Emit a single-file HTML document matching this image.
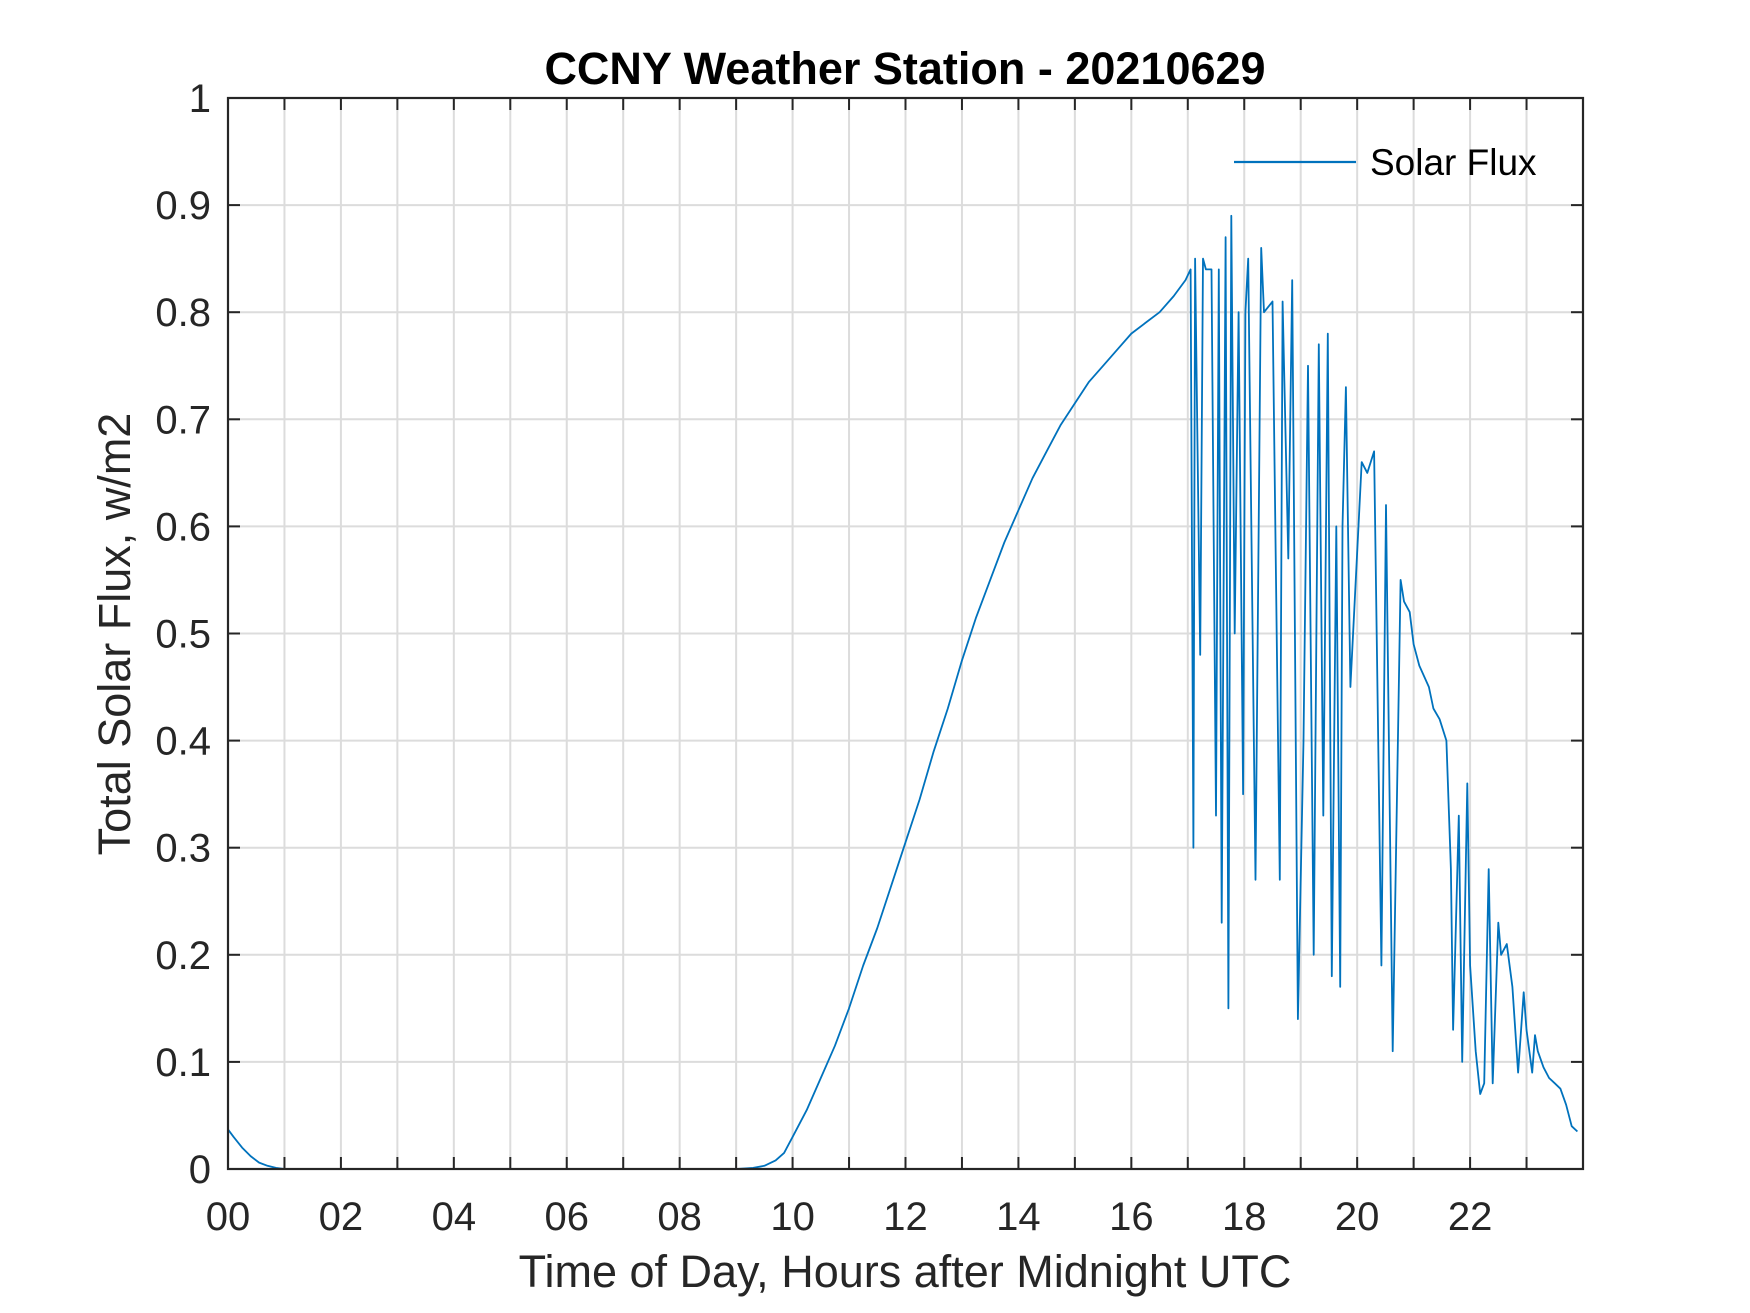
<!DOCTYPE html>
<html><head><meta charset="utf-8"><style>
html,body{margin:0;padding:0;background:#fff;}
svg{display:block;font-family:"Liberation Sans",Arial,sans-serif;}
</style></head><body>
<svg id="chart" width="1750" height="1313" viewBox="0 0 1750 1313" xmlns="http://www.w3.org/2000/svg">
<rect width="1750" height="1313" fill="#fff"/>
<g id="grid"></g>
<g id="ticks"></g>
<path id="series" fill="none" stroke="#0072bd" stroke-width="1.8" stroke-linejoin="round"/>
<rect x="228" y="98" width="1355" height="1071" fill="none" stroke="#262626" stroke-width="2.2"/>
<text x="905" y="84" text-anchor="middle" font-size="45" font-weight="bold" fill="#000">CCNY Weather Station - 20210629</text>
<text x="905" y="1287" text-anchor="middle" font-size="45" fill="#262626">Time of Day, Hours after Midnight UTC</text>
<text transform="translate(130,634) rotate(-90)" text-anchor="middle" font-size="45" fill="#262626">Total Solar Flux, w/m2</text>
<g>
<line x1="1234" y1="162" x2="1356" y2="162" stroke="#0072bd" stroke-width="2.2"/>
<text x="1370" y="175" font-size="37" fill="#000">Solar Flux</text>
</g>
</svg>
<script>
const hours = [0,0.1,0.25,0.4,0.55,0.7,0.85,1,2,3,4,5,6,7,8,9,9.3,9.5,9.7,9.85,10,10.25,10.5,10.75,11,11.25,11.5,11.75,12,12.25,12.5,12.75,13,13.25,13.5,13.75,14,14.25,14.5,14.75,15,15.25,15.5,15.75,16,16.25,16.5,16.75,16.96,
17.05,17.1,17.13,17.22,17.27,17.32,17.42,17.5,17.55,17.6,17.67,17.72,17.77,17.83,17.9,17.98,18.02,18.07,18.2,18.3,18.35,18.5,18.63,18.68,18.78,18.85,18.95,19.05,19.13,19.23,19.32,19.4,19.48,19.55,19.63,19.7,19.74,19.8,19.88,20.08,20.18,20.3,20.43,20.51,20.63,20.77,20.83,20.93,
21,21.1,21.27,21.35,21.46,21.58,21.66,21.7,21.8,21.86,21.95,22.0,22.1,22.18,22.25,22.33,22.4,22.5,22.55,22.65,22.75,22.85,22.95,23.0,23.1,23.15,23.2,23.3,23.4,23.5,23.6,23.7,23.8,23.9,23.98];
const flux = [0.037,0.03,0.02,0.012,0.006,0.003,0.001,0,0,0,0,0,0,0,0,0,0.001,0.003,0.008,0.015,0.03,0.055,0.085,0.115,0.15,0.19,0.225,0.265,0.305,0.345,0.39,0.43,0.475,0.515,0.55,0.585,0.615,0.645,0.67,0.695,0.715,0.735,0.75,0.765,0.78,0.79,0.80,0.815,0.83,
0.84,0.30,0.85,0.48,0.85,0.84,0.84,0.33,0.84,0.23,0.87,0.15,0.89,0.5,0.8,0.35,0.8,0.85,0.27,0.86,0.8,0.81,0.27,0.81,0.57,0.83,0.14,0.4,0.75,0.2,0.77,0.33,0.78,0.18,0.6,0.17,0.6,0.73,0.45,0.66,0.65,0.67,0.19,0.62,0.11,0.55,0.53,
0.52,0.49,0.47,0.45,0.43,0.42,0.40,0.28,0.13,0.33,0.10,0.36,0.19,0.11,0.07,0.08,0.28,0.08,0.23,0.20,0.21,0.17,0.09,0.165,0.13,0.09,0.125,0.11,0.095,0.085,0.08,0.075,0.06,0.04,0.035];
const yTicks = [0,0.1,0.2,0.3,0.4,0.5,0.6,0.7,0.8,0.9,1];
const yTickLabels = ["0","0.1","0.2","0.3","0.4","0.5","0.6","0.7","0.8","0.9","1"];
const xGridHours = [1,2,3,4,5,6,7,8,9,10,11,12,13,14,15,16,17,18,19,20,21,22,23];
const xTicks = [0,2,4,6,8,10,12,14,16,18,20,22];
const xTickLabels = ["00","02","04","06","08","10","12","14","16","18","20","22"];

const L=228,R=1583,T=98,B=1169;
const xs = h => L + (h/24)*(R-L);
const ys = v => B - v*(B-T);
const NS="http://www.w3.org/2000/svg";
const grid=document.getElementById('grid'), ticks=document.getElementById('ticks');
function mk(tag, attrs, parent){const e=document.createElementNS(NS,tag);for(const k in attrs)e.setAttribute(k,attrs[k]);parent.appendChild(e);return e;}
xGridHours.forEach(h=>{
  const g=mk('line',{x1:xs(h),x2:xs(h),y1:T,y2:B,stroke:'#dcdcdc','stroke-width':2},grid);
  
  
  [[B,B-12],[T,T+12]].forEach(p=>{const t=mk('line',{x1:xs(h),x2:xs(h),y1:p[0],y2:p[1],stroke:'#262626','stroke-width':2},ticks);
  
  });
});
yTicks.forEach((v,i)=>{
  if(v>0&&v<1){const g=mk('line',{x1:L,x2:R,y1:ys(v),y2:ys(v),stroke:'#dcdcdc','stroke-width':2},grid);
  
  }
  [[L,L+12],[R,R-12]].forEach(p=>{const t=mk('line',{x1:p[0],x2:p[1],y1:ys(v),y2:ys(v),stroke:'#262626','stroke-width':2},ticks);
  
  });
  const lb=mk('text',{x:211,y:ys(v)+14,'text-anchor':'end','font-size':40,fill:'#262626'},ticks);
  lb.textContent=yTickLabels[i];
  
  
});
xTicks.forEach((h,i)=>{
  const lb=mk('text',{x:xs(h),y:1230,'text-anchor':'middle','font-size':40,fill:'#262626'},ticks);
  lb.textContent=xTickLabels[i];
  
  
});
document.getElementById('series').setAttribute('d', hours.map((h,i)=>(i?'L':'M')+xs(h).toFixed(1)+' '+ys(flux[i]).toFixed(1)).join(' '));
</script>
</body></html>
